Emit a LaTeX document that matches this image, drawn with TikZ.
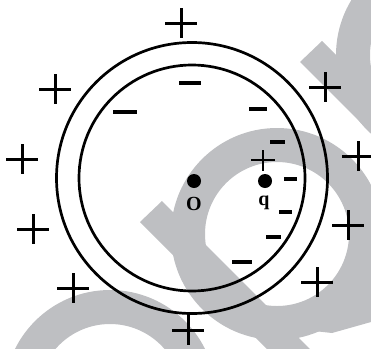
\documentclass[tikz,border=0pt]{standalone}
\usepackage{fontspec}
\setmainfont{Liberation Serif}
\definecolor{wmgray}{RGB}{190,191,194}
\tikzset{
  chg/.style={line width=3pt, black},
  neg/.style={line width=3.2pt, black},
  shell/.style={line width=2.7pt, black},
  wm/.style={fill=wmgray, draw=none},
  dotpt/.style={circle, fill=black, inner sep=0pt, minimum size=14pt},
  lab/.style={font=\bfseries\fontsize{20}{20}\selectfont, inner sep=0pt},
  pluscharge/.pic={\draw[chg] (-16,0) -- (16,0) (0,-15) -- (0,15);},
  smallplus/.pic={\draw[chg, line width=2.6pt] (-12,0) -- (12,0) (0,-10) -- (0,11);},
}
\begin{document}
\begin{tikzpicture}[x=1pt, y=-1pt]
\useasboundingbox (0,0) rectangle (371,348);
\begin{scope}
\clip (0,0) rectangle (371,348);
% watermark
\fill[wm, even odd rule] (277,234) circle (106pt) (277,234) circle (72pt);
\fill[wm] (305,330) -- (332,333) -- (371,322) -- (371,262) -- (342,300) -- cycle;
\fill[wm] (140,222) -- (162,201) -- (339,378) -- (317,399) -- cycle;
\fill[wm, even odd rule] (442,55) circle (106pt) (442,55) circle (72pt);
\fill[wm] (300,62) -- (322,41) -- (499,218) -- (477,239) -- cycle;
\fill[wm, even odd rule] (110,396) circle (106pt) (110,396) circle (72pt);
\end{scope}
% shells
\coordinate (C) at (192,178);
\draw[shell] (C) circle (135.5pt);
\draw[shell] (C) circle (113pt);
% points
\node[dotpt] (O) at (194,181) {};
\node[dotpt] (q) at (265,181) {};
\node[lab] (Olab) at (194,204) {O};
\node[lab] (qlab) at (264,203) {q};
% outer plus charges
\pic at (181,23) {pluscharge};
\pic at (55,89) {pluscharge};
\pic at (325,87) {pluscharge};
\pic at (22,159) {pluscharge};
\pic at (358,156) {pluscharge};
\pic at (33,229) {pluscharge};
\pic at (348,225) {pluscharge};
\pic at (73,288) {pluscharge};
\pic at (317,282) {pluscharge};
\pic at (188,330) {pluscharge};
% small plus near q
\pic at (263,160) {smallplus};
% inner minus charges
\draw[neg] (179,83) -- (201,83);
\draw[neg] (113,112) -- (137,112);
\draw[neg] (249,109) -- (267,109);
\draw[neg] (270,142) -- (285,142);
\draw[neg] (284,179) -- (297,179);
\draw[neg] (279,212) -- (292,212);
\draw[neg] (266,237) -- (281,237);
\draw[neg] (232,262) -- (252,262);
\end{tikzpicture}
\end{document}
